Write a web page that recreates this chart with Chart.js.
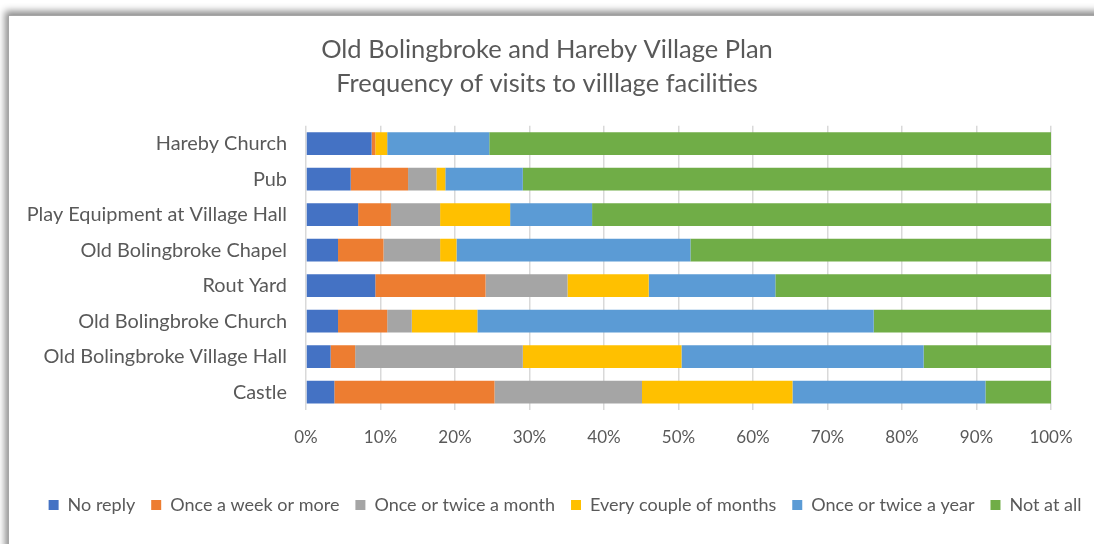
<!DOCTYPE html>
<html>
<head>
<meta charset="utf-8">
<script src="https://cdn.jsdelivr.net/npm/chart.js@4/dist/chart.umd.min.js"></script>
<style>
  html, body { margin: 0; padding: 0; background: #fff; }
  body { width: 1094px; height: 544px; position: relative; overflow: hidden; }
  #frame {
    position: absolute; left: 8px; top: 15px; width: 1100px; height: 540px;
    border: 1px solid #a6a6a6; background: #fff;
    box-shadow: -3px -4px 7px rgba(0,0,0,0.45);
  }
  #wrap { position: absolute; left: 0; top: 0; width: 1094px; height: 544px; }
</style>
</head>
<body>
<div id="frame"></div>
<div id="wrap"><canvas id="chart"></canvas></div>
<script>
// categories listed top to bottom as in the chart
const facilities = ['Hareby Church', 'Pub', 'Play Equipment at Village Hall', 'Old Bolingbroke Chapel',
    'Rout Yard', 'Old Bolingbroke Church', 'Old Bolingbroke Village Hall', 'Castle'];

const noReply       = [8.8, 6.0, 7.0, 4.3, 9.3, 4.3, 3.3, 3.8];
const oncePerWeek   = [0.5, 7.7, 4.4, 6.1, 14.8, 6.6, 3.3, 21.5];
const twiceMonth    = [0.0, 3.8, 6.6, 7.6, 11.0, 3.3, 22.5, 19.8];
const coupleMonths  = [1.6, 1.2, 9.4, 2.2, 10.9, 8.8, 21.3, 20.2];
const twiceYear     = [13.7, 10.4, 11.0, 31.4, 17.0, 53.2, 32.5, 25.9];
const notAtAll      = [75.4, 70.9, 61.6, 48.4, 37.0, 23.8, 17.1, 8.8];

const seriesNames = ['No reply', 'Once a week or more', 'Once or twice a month',
    'Every couple of months', 'Once or twice a year', 'Not at all'];
const seriesColors = ['#4472C4', '#ED7D31', '#A5A5A5', '#FFC000', '#5B9BD5', '#70AD47'];
const seriesData = [noReply, oncePerWeek, twiceMonth, coupleMonths, twiceYear, notAtAll];

const FONT = 'Lato, "Open Sans", sans-serif';
const GREY = '#595959';

const datasets = seriesNames.map((name, i) => ({
    label: name,
    data: seriesData[i],
    backgroundColor: seriesColors[i],
    borderWidth: 0,
    barPercentage: 0.64,
    categoryPercentage: 1.0
}));

// legend in the original sits a little right of centre
const shiftLegend = {
    id: 'shiftLegend',
    afterLayout(chart) {
        chart.legend.left += 18;
        chart.legend.right += 18;
    }
};

new Chart(document.getElementById('chart'), {
    type: 'bar',
    data: { labels: facilities, datasets: datasets },
    plugins: [shiftLegend],
    options: {
        indexAxis: 'y',
        responsive: true,
        maintainAspectRatio: false,
        animation: false,
        layout: { padding: { left: 0, right: 0, top: 0, bottom: 20 } },
        plugins: {
            title: {
                display: true,
                text: ['Old Bolingbroke and Hareby Village Plan', 'Frequency of visits to villlage facilities'],
                color: GREY,
                font: { family: FONT, size: 25.5, weight: 'normal', lineHeight: 1.33 },
                padding: { top: 33, bottom: 25 }
            },
            legend: {
                position: 'bottom',
                labels: {
                    color: GREY,
                    font: { family: FONT, size: 18 },
                    boxWidth: 10,
                    boxHeight: 10,
                    padding: 16
                }
            },
            tooltip: { enabled: false }
        },
        scales: {
            x: {
                stacked: true,
                min: 0,
                max: 100,
                ticks: {
                    stepSize: 10,
                    color: GREY,
                    font: { family: FONT, size: 17 },
                    padding: 17,
                    callback: v => v + '%'
                },
                grid: { color: '#d9d9d9', lineWidth: 1.5, drawTicks: false },
                border: { display: false },
                afterFit: s => { s.height = 70; s.paddingRight = 43; }
            },
            y: {
                stacked: true,
                ticks: {
                    color: GREY,
                    font: { family: FONT, size: 19.9 },
                    padding: 19
                },
                grid: { display: false, drawTicks: false },
                border: { display: false },
                afterFit: s => { s.width = 306; }
            }
        }
    }
});
</script>
</body>
</html>
